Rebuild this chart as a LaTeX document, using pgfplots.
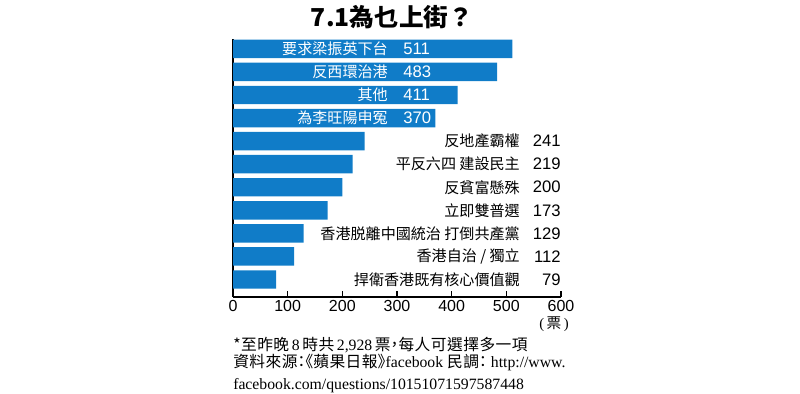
\documentclass[border=0pt]{standalone}
\usepackage{pgfplots}
\pgfplotsset{compat=1.18}
\usepackage{fontspec}
\setmainfont{Liberation Sans}
\newfontfamily\cjk{Noto Sans CJK TC}
\newfontfamily\cjkf[LetterSpace=3]{Noto Sans CJK TC}
\newfontfamily\cjkh[RawFeature=+halt]{Noto Sans CJK TC}
\newfontfamily\serifl{Liberation Serif}
\definecolor{barblue}{RGB}{16,124,200}
\newcommand{\lab}[1]{{\cjk\fontsize{11.3pt}{13pt}\selectfont #1}}
\newcommand{\num}[1]{{\fontsize{12.5pt}{14pt}\selectfont #1}}
\begin{document}
\begin{tikzpicture}[x=0.75pt,y=0.75pt]
\path[use as bounding box] (0,0) rectangle (800,393);
\begin{axis}[
  at={(174.75pt,72pt)}, anchor=south west,
  scale only axis, width=246pt, height=193.5pt,
  xmin=0, xmax=600, ymin=-0.76, ymax=10.43,
  axis x line=bottom, axis y line=left,
  axis line style={-, black, line width=1.1pt},
  xtick={0,100,...,600}, ytick=\empty,
  tick align=inside, major tick length=4.5pt,
  tick style={black, line width=0.9pt},
  xticklabel style={font=\fontsize{12pt}{13pt}\selectfont, yshift=1pt},
  /pgf/number format/assume math mode=true,
  clip=false,
]
\addplot[xbar, fill=barblue, draw=none, bar width=0.8] coordinates {
(511,10) (483,9) (411,8) (370,7) (241,6) (219,5) (200,4) (173,3) (129,2) (112,1) (79,0)};
% labels inside bars
\node[anchor=east, text=white, inner sep=0] at (axis cs:283.5,10) {\lab{要求梁振英下台}};
\node[anchor=west, text=white, inner sep=0] at (axis cs:311,10) {\num{511}};
\node[anchor=east, text=white, inner sep=0] at (axis cs:283.5,9) {\lab{反西環治港}};
\node[anchor=west, text=white, inner sep=0] at (axis cs:311,9) {\num{483}};
\node[anchor=east, text=white, inner sep=0] at (axis cs:283.5,8) {\lab{其他}};
\node[anchor=west, text=white, inner sep=0] at (axis cs:311,8) {\num{411}};
\node[anchor=east, text=white, inner sep=0] at (axis cs:283.5,7) {\lab{為李旺陽申冤}};
\node[anchor=west, text=white, inner sep=0] at (axis cs:311,7) {\num{370}};
% labels outside
\node[anchor=east, inner sep=0] at (axis cs:525,6) {\lab{反地產霸權}};
\node[anchor=east, inner sep=0] at (axis cs:600,6) {\num{241}};
\node[anchor=east, inner sep=0] at (axis cs:525,5) {\lab{平反六四 建設民主}};
\node[anchor=east, inner sep=0] at (axis cs:600,5) {\num{219}};
\node[anchor=east, inner sep=0] at (axis cs:525,4) {\lab{反貧富懸殊}};
\node[anchor=east, inner sep=0] at (axis cs:600,4) {\num{200}};
\node[anchor=east, inner sep=0] at (axis cs:525,3) {\lab{立即雙普選}};
\node[anchor=east, inner sep=0] at (axis cs:600,3) {\num{173}};
\node[anchor=east, inner sep=0] at (axis cs:525,2) {\lab{香港脱離中國統治 打倒共產黨}};
\node[anchor=east, inner sep=0] at (axis cs:600,2) {\num{129}};
\node[anchor=east, inner sep=0] at (axis cs:525,1) {\lab{香港自治 / 獨立}};
\node[anchor=east, inner sep=0] at (axis cs:600,1) {\num{112}};
\node[anchor=east, inner sep=0] at (axis cs:525,0) {\lab{捍衛香港既有核心價值觀}};
\node[anchor=east, inner sep=0] at (axis cs:600,0) {\num{79}};
\end{axis}
% title
\node[inner sep=0] at (392,376) {\cjk\bfseries\fontsize{18.5pt}{22pt}\selectfont 7.1為乜上街？};
% unit
\node[inner sep=0] at (554,69) {\fontsize{11pt}{12pt}\selectfont\serifl (\,\cjk 票\serifl\,)};
% footnote
\node[anchor=base west, inner sep=0] at (233,43) {\fontsize{11.8pt}{13pt}\selectfont\cjkf *至昨晚\,\serifl 8\,\cjkf 時共\,\serifl 2,928\,\cjkf 票\cjkh ，\cjkf 每人可選擇多一項};
\node[anchor=base west, inner sep=0] at (233,26) {\fontsize{11.8pt}{13pt}\selectfont\cjkf 資料來源\cjkh ：《\cjkf 蘋果日報\cjkh 》\serifl facebook \cjkf 民調\cjkh ：\serifl\ http://www.};
\node[anchor=base west, inner sep=0] at (233,4) {\fontsize{11.8pt}{13pt}\selectfont\serifl facebook.com/questions/10151071597587448};
\end{tikzpicture}
\end{document}
